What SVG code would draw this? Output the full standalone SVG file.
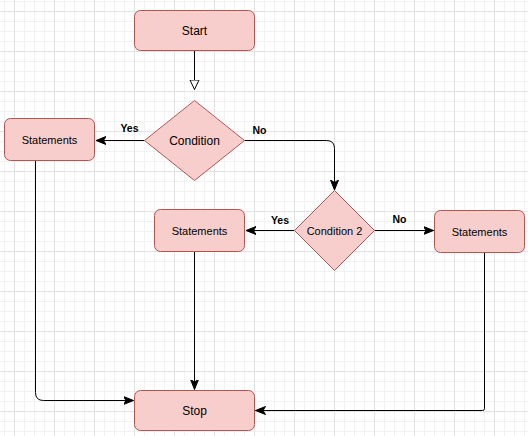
<svg xmlns="http://www.w3.org/2000/svg" width="528" height="436" viewBox="0 0 528 436">
<style>
.node{fill:#f8cecc;stroke:#b85450;stroke-width:1}
.t{font-family:"Liberation Sans",Arial,sans-serif;fill:#000;text-anchor:middle}
.n12{font-size:12px}
.n11{font-size:11px}
.lbl{font-size:10.5px;font-weight:bold}
.e{fill:none;stroke:#000;stroke-width:1}
</style>
<defs>
<pattern id="grid" x="14" y="11" width="40" height="40" patternUnits="userSpaceOnUse">
<path d="M10.5,0V40M20.5,0V40M30.5,0V40M0,10.5H40M0,20.5H40M0,30.5H40" stroke="#f2f2f2" stroke-width="1" fill="none"/>
<path d="M0.5,0V40M0,0.5H40" stroke="#e2e2e2" stroke-width="1" fill="none"/>
</pattern>
<marker id="arr" markerUnits="userSpaceOnUse" markerWidth="12" markerHeight="10" refX="10" refY="4.5" orient="auto" viewBox="0 0 12 10">
<path d="M0,0.5L10,4.5L0,8.5L2.5,4.5z" fill="#000" stroke="#000" stroke-width="1"/>
</marker>
<marker id="open" markerUnits="userSpaceOnUse" markerWidth="12" markerHeight="12" refX="10" refY="5" orient="auto" viewBox="0 0 12 12">
<path d="M0.5,0.5L10,5L0.5,9.5z" fill="#fff" stroke="#000" stroke-width="1"/>
</marker>
</defs>
<rect width="528" height="436" fill="#fff"/>
<rect width="528" height="436" fill="url(#grid)"/>
<g id="connectors">
<path class="e" d="M194.5,50.5V89.5" marker-end="url(#open)"/>
<path class="e" d="M144.5,140.5H96" marker-end="url(#arr)"/>
<path class="e" d="M244.5,140.5H326.5Q334.5,140.5 334.5,148.5V190" marker-end="url(#arr)"/>
<path class="e" d="M294.5,230.5H246" marker-end="url(#arr)"/>
<path class="e" d="M374.5,230.5H433.5" marker-end="url(#arr)"/>
<path class="e" d="M35.5,161V392.5Q35.5,400.5 43.5,400.5H133.5" marker-end="url(#arr)"/>
<path class="e" d="M194.5,251.5V389.5" marker-end="url(#arr)"/>
<path class="e" d="M484.5,252.5V408.5Q484.5,410.5 482.5,410.5H255.5" marker-end="url(#arr)"/>
<text class="t lbl" x="129.5" y="132">Yes</text>
<text class="t lbl" x="259.5" y="134">No</text>
<text class="t lbl" x="280" y="224">Yes</text>
<text class="t lbl" x="399.5" y="223">No</text>
</g>
<g id="start">
<rect class="node" x="134.5" y="10.5" width="120" height="40" rx="6"/>
<text class="t n12" x="194.5" y="34.5">Start</text>
</g>
<g id="condition">
<path class="node" d="M194.5,100.5L244.5,140.5L194.5,180.5L144.5,140.5z"/>
<text class="t n12" x="194.5" y="144.5">Condition</text>
</g>
<g id="statements1">
<rect class="node" x="4.5" y="118.5" width="90" height="42" rx="6"/>
<text class="t n11" x="49.5" y="143.5">Statements</text>
</g>
<g id="condition2">
<path class="node" d="M334.5,190.5L374.5,230.5L334.5,270.5L294.5,230.5z"/>
<text class="t n11" x="334.5" y="234.5">Condition 2</text>
</g>
<g id="statements2">
<rect class="node" x="154.5" y="209.5" width="90" height="42" rx="6"/>
<text class="t n11" x="199.5" y="234.5">Statements</text>
</g>
<g id="statements3">
<rect class="node" x="434.5" y="210.5" width="90" height="42" rx="6"/>
<text class="t n11" x="479.5" y="235.5">Statements</text>
</g>
<g id="stop">
<rect class="node" x="134.5" y="390.5" width="120" height="40" rx="6"/>
<text class="t n12" x="194.5" y="414.5">Stop</text>
</g>
</svg>
